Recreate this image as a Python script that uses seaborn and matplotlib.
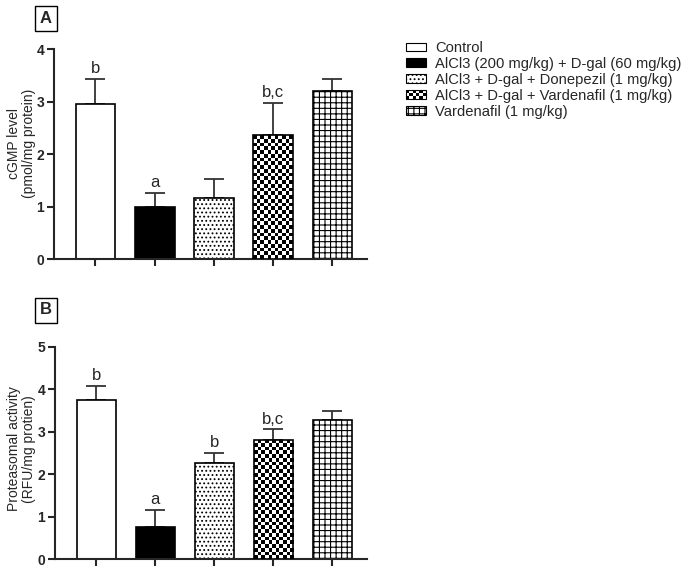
import numpy as np
import pandas as pd
import matplotlib
matplotlib.use("Agg")
import matplotlib.pyplot as plt
import seaborn as sns
from matplotlib.patches import Rectangle
from matplotlib.legend_handler import HandlerBase

groups = ["Control",
          "AlCl3 (200 mg/kg) + D-gal (60 mg/kg)",
          "AlCl3 + D-gal + Donepezil (1 mg/kg)",
          "AlCl3 + D-gal + Vardenafil (1 mg/kg)",
          "Vardenafil (1 mg/kg)"]

cgmp_mean = [2.95, 1.00, 1.17, 2.36, 3.21]
cgmp_err = [0.49, 0.27, 0.36, 0.62, 0.22]
cgmp_letters = ["b", "a", "", "b,c", ""]

prot_mean = [3.74, 0.77, 2.27, 2.81, 3.28]
prot_err = [0.34, 0.39, 0.23, 0.25, 0.20]
prot_letters = ["b", "a", "b", "b,c", ""]

faces = ["white", "black", "white", "white", "white"]
hatches = [None, None, "....", "checker", "+++"]

FONT = "Liberation Sans"


def checker_fill(ax, bar, cell_px=3.7):
    # checkerboard image clipped to the bar
    x0, y0 = bar.get_x(), bar.get_y()
    w, h = bar.get_width(), bar.get_height()
    p0 = ax.transData.transform((x0, y0))
    p1 = ax.transData.transform((x0 + w, y0 + h))
    nc = max(1, int(round(abs(p1[0] - p0[0]) / cell_px)))
    nr = max(1, int(round(abs(p1[1] - p0[1]) / cell_px)))
    board = (np.add.outer(np.arange(nr), np.arange(nc)) % 2).astype(float)
    im = ax.imshow(board, cmap="gray", extent=(x0, x0 + w, y0, y0 + h),
                   origin="lower", aspect="auto", interpolation="nearest",
                   zorder=3, vmin=0, vmax=1)
    im.set_clip_path(bar)
    bar.set_facecolor("none")
    bar.set_zorder(4)


def draw_panel(ax, means, errs, letters, ymax, ylabel, label_x, label_y):
    df = pd.DataFrame({"group": groups, "value": means})
    sns.barplot(data=df, x="group", y="value", hue="group", order=groups,
                hue_order=groups, palette=dict(zip(groups, faces)),
                edgecolor="black", linewidth=1.2, width=0.67, legend=False,
                ax=ax, errorbar=None, saturation=1)
    ax.set_xlim(-0.70, 4.58)
    ax.set_ylim(0, ymax)
    bars = sorted(ax.patches, key=lambda p: p.get_x())
    xs = [b.get_x() + b.get_width() / 2 for b in bars]
    ax.errorbar(xs, means, yerr=[np.zeros(len(means)), errs], fmt="none",
                ecolor="#333333", elinewidth=1.3, capsize=7.2, capthick=1.3,
                zorder=1)
    for b, hatch in zip(bars, hatches):
        b.set_zorder(2)
        if hatch == "checker":
            checker_fill(ax, b)
        elif hatch:
            b.set_hatch(hatch)
    for x, m, e, t in zip(xs, means, errs, letters):
        if t:
            ax.text(x, m + e + 0.012 * ymax, t, ha="center", va="bottom",
                    fontsize=12, family=FONT)
    sns.despine(ax=ax)
    for s in ["left", "bottom"]:
        ax.spines[s].set_linewidth(1.5)
    ax.set_xticks(range(len(groups)))
    ax.set_xticklabels([])
    ax.set_yticks(range(0, ymax + 1))
    ax.tick_params(axis="both", direction="out", length=5, width=1.5, pad=2,
                   bottom=True, left=True)
    for lab in ax.get_yticklabels():
        lab.set_fontweight("bold")
        lab.set_fontsize(10)
        lab.set_family(FONT)
    ax.set_xlabel("")
    ax.set_ylabel(ylabel, fontsize=10, family=FONT, linespacing=1.1)
    ax.yaxis.set_label_coords(label_x, label_y)


class CheckerHandler(HandlerBase):
    def create_artists(self, legend, orig_handle, xdescent, ydescent,
                       width, height, fontsize, trans):
        arts = [Rectangle((-xdescent, -ydescent), width, height,
                          facecolor="white", edgecolor="black", lw=0.8,
                          transform=trans)]
        nc, nr = 6, 3
        cw, ch = width / nc, height / nr
        for i in range(nr):
            for j in range(nc):
                if (i + j) % 2 == 0:
                    arts.append(Rectangle((-xdescent + j * cw, -ydescent + i * ch),
                                          cw, ch, facecolor="black",
                                          edgecolor="none", transform=trans))
        return arts


sns.set_style("white")
plt.rcParams["hatch.linewidth"] = 0.8
fig = plt.figure(figsize=(6.85, 5.67), dpi=100)
W, H = 685.0, 567.0
axA = fig.add_axes([54 / W, 1 - 259.3 / H, 312.7 / W, 210 / H])
axB = fig.add_axes([55 / W, 1 - 559.3 / H, 311.7 / W, 212.6 / H])

draw_panel(axA, cgmp_mean, cgmp_err, cgmp_letters, 4,
           "cGMP level\n(pmol/mg protein)", -0.056, 0.55)
draw_panel(axB, prot_mean, prot_err, prot_letters, 5,
           "Proteasomal activity\n(RFU/mg protien)", -0.062, 0.52)

for txt, yc in [("A", 18.5), ("B", 310)]:
    fig.text(45.5 / W, 1 - yc / H, txt, ha="center", va="center",
             fontsize=12, fontweight="bold", family=FONT,
             bbox=dict(boxstyle="square,pad=0.3", fc="white", ec="black", lw=1))

handles = []
hmap = {}
for g, fc, hatch in zip(groups, faces, hatches):
    if hatch == "checker":
        h = Rectangle((0, 0), 1, 1)
        hmap[h] = CheckerHandler()
    else:
        h = Rectangle((0, 0), 1, 1, facecolor=fc, edgecolor="black", lw=0.8,
                      hatch=hatch)
    handles.append(h)

fig.legend(handles, groups, loc="upper left", bbox_to_anchor=(406 / W, 1 - 41 / H),
           frameon=False, borderpad=0, borderaxespad=0, handlelength=1.35,
           handleheight=0.5, handletextpad=0.65, labelspacing=0.13,
           prop={"family": FONT, "size": 10.6}, handler_map=hmap)

fig.savefig("out.png", dpi=100)
